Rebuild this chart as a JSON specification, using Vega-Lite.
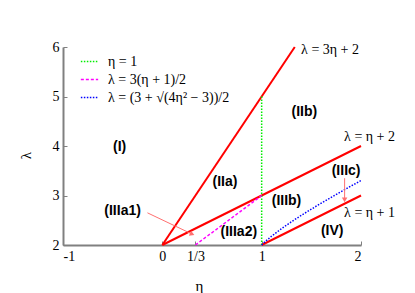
{
  "$schema": "https://vega.github.io/schema/vega-lite/v6.json",
  "width": 298,
  "height": 198,
  "autosize": {"type": "none"},
  "padding": {"left": 63, "top": 47, "right": 54, "bottom": 48},
  "background": "white",
  "config": {
    "view": {"stroke": null},
    "axis": {
      "grid": false,
      "domainColor": "#808080",
      "domainWidth": 2,
      "tickColor": "#808080",
      "tickSize": -4,
      "tickWidth": 1,
      "labelFont": "Liberation Serif, Times New Roman, DejaVu Serif, serif",
      "labelFontSize": 14,
      "labelColor": "black",
      "titleFont": "Liberation Serif, Times New Roman, DejaVu Serif, serif",
      "titleFontSize": 15,
      "titleFontWeight": "normal",
      "titleColor": "black"
    }
  },
  "datasets": {
    "red": [
      {"series": "3eta+2", "eta": 0, "lambda": 2},
      {"series": "3eta+2", "eta": 1.3333, "lambda": 6},
      {"series": "eta+2", "eta": 0, "lambda": 2},
      {"series": "eta+2", "eta": 2, "lambda": 4},
      {"series": "eta+1", "eta": 1, "lambda": 2},
      {"series": "eta+1", "eta": 2, "lambda": 3}
    ],
    "curves": [
      {"series": "η = 1", "eta": 1, "lambda": 2},
      {"series": "η = 1", "eta": 1, "lambda": 5},
      {"series": "λ = 3(η + 1)/2", "eta": 0.3333, "lambda": 2},
      {"series": "λ = 3(η + 1)/2", "eta": 1, "lambda": 3},
      {"series": "λ = (3 + √(4η² − 3))/2", "eta": 1.0, "lambda": 2.0},
      {"series": "λ = (3 + √(4η² − 3))/2", "eta": 1.01, "lambda": 2.0197},
      {"series": "λ = (3 + √(4η² − 3))/2", "eta": 1.02, "lambda": 2.0389},
      {"series": "λ = (3 + √(4η² − 3))/2", "eta": 1.05, "lambda": 2.0937},
      {"series": "λ = (3 + √(4η² − 3))/2", "eta": 1.1, "lambda": 2.1782},
      {"series": "λ = (3 + √(4η² − 3))/2", "eta": 1.2, "lambda": 2.3307},
      {"series": "λ = (3 + √(4η² − 3))/2", "eta": 1.3, "lambda": 2.4695},
      {"series": "λ = (3 + √(4η² − 3))/2", "eta": 1.4, "lambda": 2.6},
      {"series": "λ = (3 + √(4η² − 3))/2", "eta": 1.5, "lambda": 2.7247},
      {"series": "λ = (3 + √(4η² − 3))/2", "eta": 1.6, "lambda": 2.8454},
      {"series": "λ = (3 + √(4η² − 3))/2", "eta": 1.7, "lambda": 2.9629},
      {"series": "λ = (3 + √(4η² − 3))/2", "eta": 1.8, "lambda": 3.078},
      {"series": "λ = (3 + √(4η² − 3))/2", "eta": 1.9, "lambda": 3.1912},
      {"series": "λ = (3 + √(4η² − 3))/2", "eta": 2.0, "lambda": 3.3028}
    ],
    "regions": [
      {"label": "(I)", "eta": -0.43, "lambda": 3.98},
      {"label": "(IIa)", "eta": 0.63, "lambda": 3.27},
      {"label": "(IIb)", "eta": 1.43, "lambda": 4.69},
      {"label": "(IIIa1)", "eta": -0.4, "lambda": 2.69},
      {"label": "(IIIa2)", "eta": 0.77, "lambda": 2.26},
      {"label": "(IIIb)", "eta": 1.25, "lambda": 2.89},
      {"label": "(IIIc)", "eta": 1.85, "lambda": 3.49},
      {"label": "(IV)", "eta": 1.71, "lambda": 2.28}
    ],
    "lineLabels": [
      {"label": "λ = 3η + 2", "eta": 1.397, "lambda": 5.94},
      {"label": "λ = η + 2", "eta": 1.83, "lambda": 4.18},
      {"label": "λ = η + 1", "eta": 1.83, "lambda": 2.65}
    ],
    "arrows": [
      {"name": "a1", "eta": -0.15, "lambda": 2.65, "eta2": 0.3, "lambda2": 2.22},
      {"name": "c", "eta": 1.835, "lambda": 3.35, "eta2": 1.835, "lambda2": 2.91}
    ]
  },
  "layer": [
    {
      "data": {"name": "red"},
      "mark": {"type": "line", "color": "#ff0000", "strokeWidth": 2},
      "encoding": {
        "x": {"field": "eta", "type": "quantitative", "scale": {"domain": [-1, 2], "nice": false, "zero": false},
          "axis": {"values": [-1, 0, 0.3333, 1, 2], "title": "η", "labelExpr": "abs(datum.value - 0.3333) < 0.01 ? '1/3' : toString(datum.value)", "labelPadding": 8, "titleX": 136, "titleY": 40, "titleBaseline": "middle"}},
        "y": {"field": "lambda", "type": "quantitative", "scale": {"domain": [2, 6], "nice": false, "zero": false},
          "axis": {"values": [2, 3, 4, 5, 6], "title": "λ", "labelPadding": 8, "titleX": -38, "titleY": 108, "titleBaseline": "middle", "titleAlign": "center"}},
        "detail": {"field": "series"},
        "order": {"field": "eta"}
      }
    },
    {
      "data": {"name": "curves"},
      "mark": {"type": "line", "strokeWidth": 1.5},
      "encoding": {
        "x": {"field": "eta", "type": "quantitative"},
        "y": {"field": "lambda", "type": "quantitative"},
        "order": {"field": "eta"},
        "color": {"field": "series", "type": "nominal",
          "scale": {"domain": ["η = 1", "λ = 3(η + 1)/2", "λ = (3 + √(4η² − 3))/2"], "range": ["#00ee00", "#ff00ff", "#0000ff"]},
          "legend": {"title": null, "orient": "none", "legendX": 17, "legendY": 5, "padding": 0, "symbolType": "stroke", "symbolSize": 300, "symbolStrokeWidth": 1.5, "labelFont": "Liberation Serif, Times New Roman, DejaVu Serif, serif", "labelFontSize": 14, "labelColor": "black", "labelOffset": 9, "rowPadding": 1, "labelLimit": 300}},
        "strokeDash": {"field": "series", "type": "nominal",
          "scale": {"domain": ["η = 1", "λ = 3(η + 1)/2", "λ = (3 + √(4η² − 3))/2"], "range": [[1.5, 1.5], [3, 2], [1.5, 1.5]]}}
      }
    },
    {
      "data": {"name": "arrows"},
      "mark": {"type": "rule", "color": "#ff7070", "strokeWidth": 1},
      "encoding": {
        "x": {"field": "eta", "type": "quantitative"},
        "y": {"field": "lambda", "type": "quantitative"},
        "x2": {"field": "eta2"},
        "y2": {"field": "lambda2"}
      }
    },
    {
      "data": {"name": "arrows"},
      "transform": [{"filter": "datum.name == 'a1'"}],
      "mark": {"type": "point", "shape": "triangle-right", "filled": true, "color": "#ff7070", "size": 30, "angle": 24, "opacity": 1},
      "encoding": {
        "x": {"field": "eta2", "type": "quantitative"},
        "y": {"field": "lambda2", "type": "quantitative"}
      }
    },
    {
      "data": {"name": "arrows"},
      "transform": [{"filter": "datum.name == 'c'"}],
      "mark": {"type": "point", "shape": "triangle-down", "filled": true, "color": "#ff7070", "size": 30, "opacity": 1},
      "encoding": {
        "x": {"field": "eta2", "type": "quantitative"},
        "y": {"field": "lambda2", "type": "quantitative"}
      }
    },
    {
      "data": {"name": "regions"},
      "mark": {"type": "text", "font": "Liberation Sans, Arial, sans-serif", "fontWeight": "bold", "fontSize": 14, "align": "center", "baseline": "middle", "color": "black"},
      "encoding": {
        "x": {"field": "eta", "type": "quantitative"},
        "y": {"field": "lambda", "type": "quantitative"},
        "text": {"field": "label"}
      }
    },
    {
      "data": {"name": "lineLabels"},
      "mark": {"type": "text", "font": "Liberation Serif, Times New Roman, DejaVu Serif, serif", "fontSize": 14, "align": "left", "baseline": "middle", "color": "black"},
      "encoding": {
        "x": {"field": "eta", "type": "quantitative"},
        "y": {"field": "lambda", "type": "quantitative"},
        "text": {"field": "label"}
      }
    }
  ]
}
